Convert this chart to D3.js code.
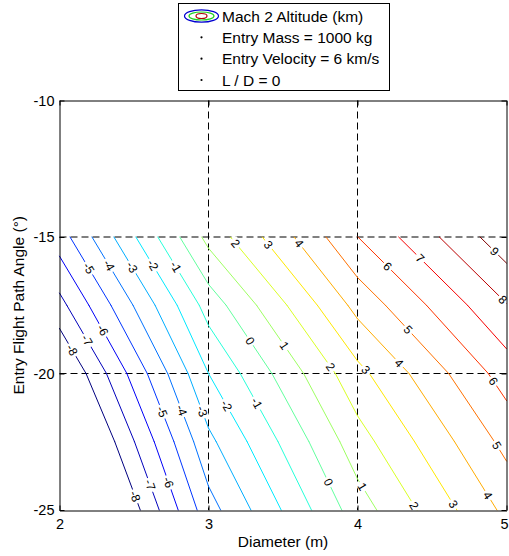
<!DOCTYPE html>
<html>
<head>
<meta charset="utf-8">
<script src="https://cdn.jsdelivr.net/npm/d3@7"></script>
<style>
body { margin: 0; background: #fff; }
svg { display: block; font-family: "Liberation Sans", Arial, sans-serif; }
</style>
</head>
<body>
<div id="chart"></div>
<script>
// Mach 2 altitude (km) on a diameter x entry angle grid
const diameters = [2, 3, 4, 5];
const angles = [-15, -17.5, -20, -22.5, -25];
const altitude = [
    [-5.48, 1.31, 5.99, 9.65],
    [-7.33, -0.58, 4.32, 7.95],
    [-9.30, -2.00, 2.70, 6.46],
    [-10.8, -3.25, 1.57, 5.30],
    [-12.26, -4.40, 0.52, 4.24]
];
const levels = d3.range(-8, 10);

const xTicks = [2, 3, 4, 5];
const yTicks = [-10, -15, -20, -25];

const legendLines = ["Mach 2 Altitude (km)", "Entry Mass = 1000 kg", "Entry Velocity = 6 km/s", "L / D = 0"];

// inline contour labels: [level, diameter, angle]
const labelSpots = [
    [-5, 2.179, -16.20], [-4, 2.313, -16.10], [-3, 2.470, -16.16], [-2, 2.604, -16.10], [-1, 2.760, -16.16],
    [2, 3.174, -15.27], [3, 3.398, -15.30], [4, 3.606, -15.24],
    [6, 4.181, -16.19], [7, 4.411, -15.83], [9, 4.908, -15.59], [8, 4.948, -17.44],
    [0, 3.253, -18.90], [1, 3.499, -19.02],
    [-6, 2.268, -18.48], [-7, 2.168, -18.84], [-8, 2.062, -19.21],
    [-5, 2.660, -21.46], [-4, 2.794, -21.40], [-3, 2.951, -21.40], [-2, 3.107, -21.22], [-1, 3.320, -21.10],
    [2, 3.801, -19.82], [3, 4.042, -19.94], [4, 4.270, -19.66], [5, 4.322, -18.48], [6, 4.891, -20.36],
    [-6, 2.716, -24.02], [-7, 2.604, -24.09], [-8, 2.503, -24.51],
    [0, 3.790, -24.02], [1, 4.013, -24.21], [2, 4.367, -24.88], [3, 4.624, -24.85], [4, 4.852, -24.54],
    [5, 4.900, -22.75]
];

const width = 509, height = 556;

const svg = d3.select('#chart')
    .append('svg')
    .attr('width', width)
    .attr('height', height);

const xScale = d3.scaleLinear().domain([2, 5]).range([59.5, 506.5]);
const yScale = d3.scaleLinear().domain([-10, -25]).range([100.5, 510]);

// jet colormap over the contour levels
const jet = d3.scaleLinear()
    .domain([0, 1 / 8, 3 / 8, 5 / 8, 7 / 8, 1])
    .range(["#00007f", "#0000ff", "#00ffff", "#ffff00", "#ff0000", "#7f0000"])
    .interpolate(d3.interpolateRgb);
const colour = L => jet((L - levels[0]) / (levels[levels.length - 1] - levels[0]));

// grid lines
const gridGroup = svg.append('g').attr('id', 'grid');
gridGroup.selectAll('line.gx')
    .data(xTicks.slice(1, -1))
    .enter().append('line')
    .attr('x1', d => xScale(d)).attr('x2', d => xScale(d))
    .attr('y1', yScale(-10)).attr('y2', yScale(-25))
    .attr('stroke', '#000').attr('stroke-dasharray', '7,4');
gridGroup.selectAll('line.gy')
    .data(yTicks.slice(1, -1))
    .enter().append('line')
    .attr('y1', d => yScale(d)).attr('y2', d => yScale(d))
    .attr('x1', xScale(2)).attr('x2', xScale(5))
    .attr('stroke', '#000').attr('stroke-dasharray', '7,4');

// marching squares on the grid, linear interpolation on cell edges
function contourSegments(L) {
    const segs = [];
    for (let j = 0; j < angles.length - 1; j++) {
        for (let i = 0; i < diameters.length - 1; i++) {
            const c = [[i, j], [i + 1, j], [i + 1, j + 1], [i, j + 1]];
            const pts = [];
            for (let k = 0; k < 4; k++) {
                const [i1, j1] = c[k], [i2, j2] = c[(k + 1) % 4];
                const v1 = altitude[j1][i1], v2 = altitude[j2][i2];
                if ((v1 >= L) !== (v2 >= L)) {
                    const t = (L - v1) / (v2 - v1);
                    pts.push([
                        diameters[i1] + t * (diameters[i2] - diameters[i1]),
                        angles[j1] + t * (angles[j2] - angles[j1])
                    ]);
                }
            }
            if (pts.length === 2) segs.push(pts);
            else if (pts.length === 4) { segs.push([pts[0], pts[1]]); segs.push([pts[2], pts[3]]); }
        }
    }
    return segs;
}

const contourData = levels.map(L => ({ level: L, segs: contourSegments(L) }));

const line = d3.line().x(d => xScale(d[0])).y(d => yScale(d[1]));

const contourGroup = svg.append('g').attr('id', 'contours');
contourGroup.selectAll('path')
    .data(contourData)
    .enter().append('path')
    .attr('d', d => d.segs.map(s => line(s)).join(''))
    .attr('fill', 'none')
    .attr('stroke', d => colour(d.level))
    .attr('stroke-width', 1)
    .attr('stroke-linecap', 'round');

// place each label on the nearest point of its contour
function snap(L, dx, ay) {
    const px = xScale(dx), py = yScale(ay);
    const segs = contourData.find(c => c.level === L).segs;
    let best = null;
    segs.forEach(s => {
        const ax = xScale(s[0][0]), ay0 = yScale(s[0][1]);
        const bx = xScale(s[1][0]), by = yScale(s[1][1]);
        const vx = bx - ax, vy = by - ay0;
        const len2 = vx * vx + vy * vy || 1;
        let t = ((px - ax) * vx + (py - ay0) * vy) / len2;
        t = Math.max(0, Math.min(1, t));
        const qx = ax + t * vx, qy = ay0 + t * vy;
        const dist = (qx - px) ** 2 + (qy - py) ** 2;
        if (!best || dist < best.dist) {
            let rot = Math.atan2(vy, vx) * 180 / Math.PI;
            if (rot > 90) rot -= 180;
            if (rot < -90) rot += 180;
            best = { x: qx, y: qy, rot: rot, dist: dist };
        }
    });
    return best;
}

const labelGroup = svg.append('g').attr('id', 'labels');
labelSpots.forEach(([L, dx, ay]) => {
    const p = snap(L, dx, ay);
    const g = labelGroup.append('g')
        .attr('transform', `translate(${p.x},${p.y}) rotate(${p.rot})`);
    const bg = g.append('rect').attr('fill', '#fff');
    const t = g.append('text')
        .attr('text-anchor', 'middle')
        .attr('dy', '0.35em')
        .attr('font-size', 12)
        .attr('fill', '#000')
        .text(L);
    const w = t.node().getComputedTextLength();
    bg.attr('x', -w / 2 - 2).attr('y', -5).attr('width', w + 4).attr('height', 10);
});

// axes: ticks inward on all four sides
const axisGroup = svg.append('g').attr('id', 'axes');
const fmt = d => String(d);

const xAxisGroup = axisGroup.append('g')
    .attr('transform', `translate(0, ${yScale(-25) + 0.5})`)
    .call(d3.axisBottom(xScale).tickValues(xTicks).tickFormat(fmt).tickSize(-5).tickSizeOuter(0).tickPadding(8));
axisGroup.append('g')
    .attr('transform', `translate(0, ${yScale(-10)})`)
    .call(d3.axisTop(xScale).tickValues(xTicks).tickSize(-5).tickSizeOuter(0).tickFormat(''));
axisGroup.append('g')
    .attr('transform', `translate(${xScale(2)}, 0)`)
    .call(d3.axisLeft(yScale).tickValues(yTicks).tickFormat(fmt).tickSize(-5).tickSizeOuter(0).tickPadding(5));
axisGroup.append('g')
    .attr('transform', `translate(${xScale(5)}, 0)`)
    .call(d3.axisRight(yScale).tickValues(yTicks).tickSize(-5).tickSizeOuter(0).tickFormat(''));

axisGroup.selectAll('text')
    .attr('font-family', '"Liberation Sans", Arial, sans-serif')
    .attr('font-size', 14.5)
    .attr('fill', '#000');
axisGroup.selectAll('path.domain, line').attr('stroke', '#000');

// keep the last x tick label inside the window
xAxisGroup.selectAll('.tick text')
    .filter(d => d === xTicks[xTicks.length - 1])
    .attr('dx', -2.5);

// axis titles
svg.append('text')
    .attr('x', (xScale(2) + xScale(5)) / 2)
    .attr('y', 547)
    .attr('text-anchor', 'middle')
    .attr('font-size', 15.5)
    .text('Diameter (m)');

svg.append('text')
    .attr('transform', `translate(24, ${(yScale(-10) + yScale(-25)) / 2}) rotate(-90)`)
    .attr('text-anchor', 'middle')
    .attr('font-size', 15.5)
    .text('Entry Flight Path Angle (°)');

// legend
const legend = svg.append('g').attr('id', 'legend');
legend.append('rect')
    .attr('x', 178.5).attr('y', 3.5)
    .attr('width', 211).attr('height', 87)
    .attr('fill', '#fff').attr('stroke', '#000');

const rowY = d3.scaleLinear().domain([0, 3]).range([16, 80]);

const icon = [[17, 6.2, "#0000d0"], [12.5, 4, "#20d020"], [5.5, 2.5, "#b00000"]];
legend.selectAll('ellipse')
    .data(icon)
    .enter().append('ellipse')
    .attr('cx', 201.5).attr('cy', rowY(0))
    .attr('rx', d => d[0]).attr('ry', d => d[1])
    .attr('fill', 'none').attr('stroke', d => d[2]).attr('stroke-width', 1.2);

legend.selectAll('circle')
    .data(legendLines.slice(1))
    .enter().append('circle')
    .attr('cx', 201.5).attr('cy', (d, i) => rowY(i + 1))
    .attr('r', 1.1).attr('fill', '#000');

legend.selectAll('text')
    .data(legendLines)
    .enter().append('text')
    .attr('x', 222)
    .attr('y', (d, i) => rowY(i) + 5.5)
    .attr('font-size', 15.5)
    .text(d => d);
</script>
</body>
</html>
